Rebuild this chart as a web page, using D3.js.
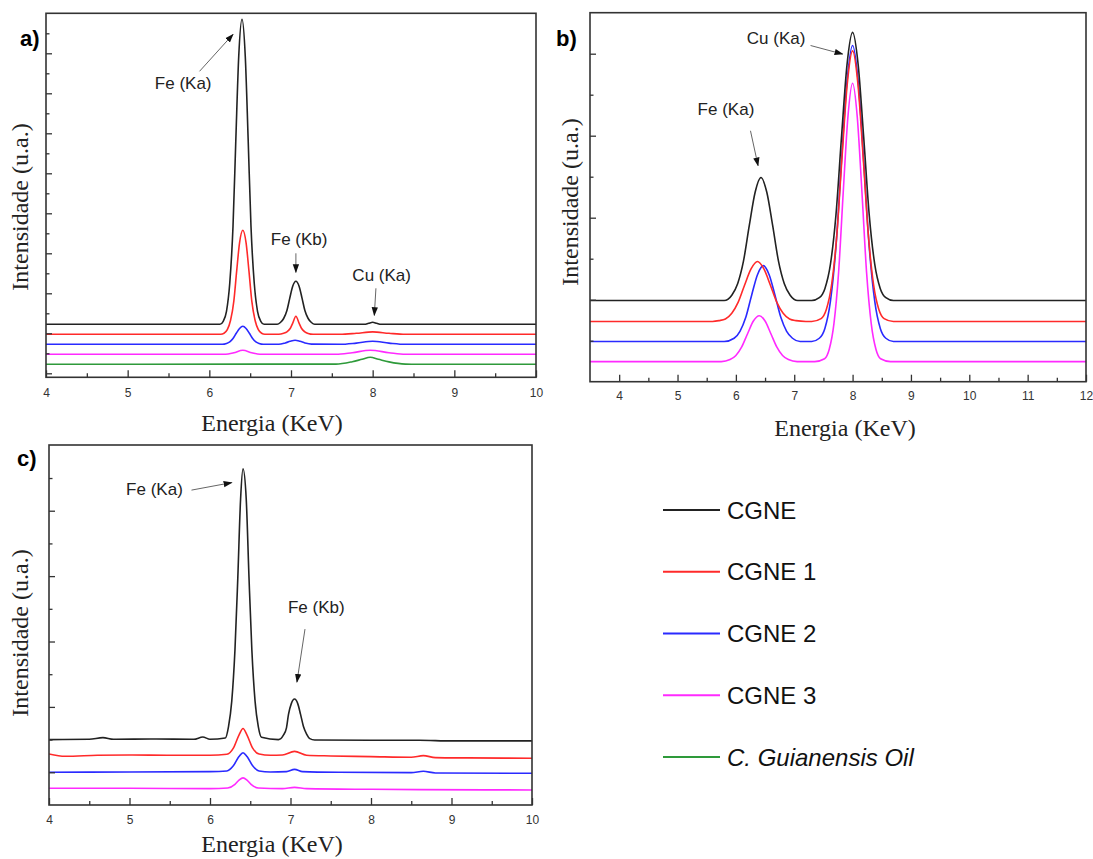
<!DOCTYPE html>
<html>
<head>
<meta charset="utf-8">
<script src="https://cdn.jsdelivr.net/npm/d3@7"></script>
<style>
	body { margin: 0; background: #fff; }
	svg { display: block; }
</style>
</head>
<body>
<svg id="fig" width="1093" height="859"></svg>
<script>
// =================================================
// data: [energy (KeV), intensity (u.a.)]
// =================================================
var seriesNames = ["CGNE", "CGNE 1", "CGNE 2", "CGNE 3", "C. Guianensis Oil"];
var seriesColors = ["#222", "#ff2a2a", "#2a2aff", "#ff2aff", "#2e9a3a"];

// panel a)
var aCGNE = [[4,2.45],[6.13,2.45],[6.17,2.6],[6.21,3.1],[6.25,4.5],[6.29,7.35],[6.325,11.75],[6.36,15.85],[6.4,17.7],
	[6.44,15.85],[6.475,11.75],[6.51,7.35],[6.55,4.5],[6.59,3.1],[6.63,2.6],[6.67,2.45],[6.83,2.45],[6.87,2.54],[6.91,2.74],
	[6.95,3.14],[6.985,3.76],[7.02,4.34],[7.06,4.6],[7.1,4.34],[7.135,3.76],[7.17,3.14],[7.21,2.74],[7.25,2.54],[7.29,2.45],
	[7.9,2.45],[7.95,2.5],[8.0,2.55],[8.05,2.5],[8.1,2.45],[10,2.45]];
var aCGNE1 = [[4,1.95],[6.14,1.95],[6.18,2.0],[6.22,2.18],[6.26,2.65],[6.3,3.61],[6.335,5.12],[6.37,6.52],[6.41,7.15],
	[6.45,6.52],[6.485,5.12],[6.52,3.61],[6.56,2.65],[6.6,2.18],[6.64,2.0],[6.68,1.95],[6.85,1.95],[6.91,2.0],[6.95,2.07],
	[6.99,2.24],[7.02,2.5],[7.06,2.85],[7.1,2.5],[7.13,2.24],[7.17,2.07],[7.21,1.99],[7.27,1.95],[7.6,1.95],[7.8,2.0],
	[8.0,2.07],[8.2,2.0],[8.4,1.95],[10,1.95]];
var aCGNE2 = [[4,1.45],[6.16,1.45],[6.21,1.49],[6.25,1.57],[6.29,1.74],[6.33,2.0],[6.37,2.24],[6.41,2.35],[6.45,2.24],
	[6.49,2.0],[6.53,1.74],[6.57,1.57],[6.61,1.49],[6.66,1.45],[6.85,1.45],[6.93,1.52],[6.99,1.6],[7.05,1.65],[7.11,1.6],
	[7.17,1.52],[7.25,1.46],[7.6,1.45],[7.8,1.51],[8.0,1.6],[8.2,1.51],[8.4,1.45],[10,1.45]];
var aCGNE3 = [[4,0.95],[6.2,0.95],[6.3,1.03],[6.41,1.15],[6.52,1.03],[6.62,0.95],[7.55,0.95],[7.75,1.03],[7.97,1.15],
	[8.2,1.03],[8.4,0.95],[10,0.95]];
var aOil = [[4,0.45],[7.55,0.46],[7.75,0.58],[7.87,0.7],[7.97,0.8],[8.07,0.7],[8.2,0.57],[8.4,0.46],[8.55,0.45],[10,0.45]];

// panel b)
var bCGNE = [[3.5,1.98],[5.8,1.98],[5.93,2.11],[6.03,2.39],[6.13,2.94],[6.23,3.81],[6.33,4.62],[6.43,4.98],[6.53,4.62],
	[6.63,3.81],[6.73,2.94],[6.83,2.39],[6.93,2.11],[7.06,1.98],[7.3,1.98],[7.43,2.05],[7.525,2.27],[7.62,2.86],[7.715,4.07],
	[7.81,5.97],[7.905,7.74],[8.0,8.52],[8.095,7.74],[8.19,5.97],[8.285,4.07],[8.38,2.86],[8.475,2.27],[8.57,2.05],[8.7,1.98],[12,1.98]];
var bCGNE1 = [[3.5,1.47],[5.6,1.47],[5.71,1.49],[5.82,1.53],[5.93,1.67],[6.04,1.94],[6.15,2.36],[6.26,2.75],[6.37,2.93],
	[6.48,2.75],[6.59,2.36],[6.7,1.94],[6.81,1.67],[6.92,1.53],[7.03,1.49],[7.2,1.47],[7.3,1.47],[7.46,1.54],[7.55,1.76],
	[7.64,2.36],[7.73,3.58],[7.82,5.5],[7.91,7.28],[8.0,8.07],[8.09,7.28],[8.18,5.5],[8.27,3.58],[8.36,2.36],[8.45,1.76],
	[8.54,1.54],[8.7,1.47],[12,1.47]];
var bCGNE2 = [[3.5,0.98],[5.8,0.98],[5.97,1.06],[6.07,1.23],[6.17,1.57],[6.27,2.11],[6.37,2.61],[6.47,2.83],[6.57,2.61],
	[6.67,2.11],[6.77,1.57],[6.87,1.23],[6.97,1.06],[7.1,0.98],[7.3,0.98],[7.43,1.06],[7.525,1.3],[7.62,1.96],[7.715,3.29],
	[7.81,5.38],[7.905,7.33],[8.0,8.2],[8.095,7.33],[8.19,5.38],[8.285,3.29],[8.38,1.96],[8.475,1.3],[8.57,1.06],[8.7,0.98],[12,0.98]];
var bCGNE3 = [[3.5,0.49],[5.75,0.49],[5.9,0.54],[6.0,0.64],[6.1,0.85],[6.2,1.17],[6.3,1.48],[6.4,1.61],[6.5,1.48],
	[6.6,1.17],[6.7,0.85],[6.8,0.64],[6.9,0.54],[7.05,0.49],[7.35,0.49],[7.52,0.56],[7.6,0.79],[7.68,1.41],[7.76,2.66],
	[7.84,4.63],[7.92,6.46],[8.0,7.28],[8.08,6.46],[8.16,4.63],[8.24,2.66],[8.32,1.41],[8.4,0.79],[8.48,0.56],[8.65,0.49],[12,0.49]];

// panel c)
var cCGNE = [[4,2.0],[4.5,2.01],[4.67,2.06],[4.8,2.01],[5.3,2.02],[5.8,2.01],[5.91,2.08],[6.0,2.01],[6.19,2.05],[6.23,2.4],
	[6.27,3.17],[6.31,4.74],[6.345,6.92],[6.38,9.36],[6.41,10.28],[6.45,9.36],[6.485,6.92],[6.52,4.74],[6.56,3.17],[6.6,2.4],
	[6.64,2.07],[6.85,2.0],[6.91,2.13],[6.95,2.36],[6.975,2.77],[7.01,3.1],[7.05,3.24],[7.09,3.1],[7.125,2.77],[7.16,2.41],
	[7.2,2.17],[7.24,2.03],[7.3,1.99],[8.0,1.98],[8.6,1.98],[9.0,1.96],[10,1.96]];
var cCGNE1 = [[4,1.56],[4.2,1.49],[4.6,1.52],[5.0,1.53],[5.5,1.52],[6.0,1.52],[6.21,1.55],[6.29,1.74],[6.36,2.14],[6.41,2.34],
	[6.46,2.14],[6.53,1.74],[6.61,1.56],[6.75,1.52],[6.9,1.53],[7.05,1.64],[7.2,1.52],[7.5,1.5],[8.0,1.48],[8.5,1.46],
	[8.65,1.51],[8.8,1.45],[9.2,1.44],[10,1.43]];
var cCGNE2 = [[4,1.0],[5.0,1.01],[6.0,1.02],[6.21,1.04],[6.29,1.2],[6.36,1.48],[6.41,1.6],[6.46,1.48],[6.53,1.2],
	[6.61,1.04],[6.75,1.01],[6.95,1.02],[7.05,1.09],[7.15,1.02],[7.6,1.0],[8.5,0.99],[8.65,1.03],[8.8,0.98],[10,0.97]];
var cCGNE3 = [[4,0.51],[5.0,0.51],[6.0,0.5],[6.22,0.52],[6.31,0.63],[6.36,0.76],[6.41,0.83],[6.46,0.76],[6.51,0.63],
	[6.6,0.52],[6.9,0.5],[7.05,0.54],[7.2,0.5],[8.0,0.48],[8.6,0.47],[10,0.46]];

// peak annotations: text centre + arrow from/to, in data units
var notesA = [
	{ text: "Fe (Ka)", at: [5.68, 14.5], from: [5.88, 15.1], to: [6.29, 16.95] },
	{ text: "Fe (Kb)", at: [7.10, 6.7], from: [7.06, 6.0], to: [7.06, 5.05] },
	{ text: "Cu (Ka)", at: [8.11, 4.9], from: [8.04, 4.25], to: [8.02, 2.9] }
];
var notesB = [
	{ text: "Cu (Ka)", at: [6.69, 8.39], from: [7.28, 8.2], to: [7.83, 7.99] },
	{ text: "Fe (Ka)", at: [5.83, 6.66], from: [6.25, 6.12], to: [6.38, 5.27] }
];
var notesC = [
	{ text: "Fe (Ka)", at: [5.31, 9.65], from: [5.77, 9.63], to: [6.27, 9.86] },
	{ text: "Fe (Kb)", at: [7.32, 6.06], from: [7.18, 5.38], to: [7.08, 3.76] }
];

// =================================================
// layout of the three panels
// =================================================
var panels = [
	{ label: "a)", lab: [20, 45.5], box: [46, 13.3, 536, 377.3], xDom: [4, 10], yDom: [-0.2, 18],
		xMajor: d3.range(4, 10.01, 1), xMinor: d3.range(4.5, 10, 1),
		yTicks: d3.range(0, 18, 1), yMajorOdd: false, pad: 11,
		series: [aCGNE, aCGNE1, aCGNE2, aCGNE3, aOil], notes: notesA, xTitle: [272, 431], yTitle: [28, 207] },
	{ label: "b)", lab: [556, 45.5], box: [590, 12.7, 1086, 381.7], xDom: [3.5, 12], yDom: [0, 9.0],
		xMajor: d3.range(4, 12.01, 1), xMinor: d3.range(4.5, 12, 1),
		yTicks: d3.range(1, 9, 1), yMajorOdd: false, pad: 10,
		series: [bCGNE, bCGNE1, bCGNE2, bCGNE3], notes: notesB, xTitle: [845, 436], yTitle: [578, 202] },
	{ label: "c)", lab: [17, 466], box: [49, 445, 532, 805], xDom: [4, 10], yDom: [0, 11.01],
		xMajor: d3.range(4, 10.01, 1), xMinor: d3.range(4.5, 10, 1),
		yTicks: d3.range(1, 11, 1), yMajorOdd: true, pad: 10,
		series: [cCGNE, cCGNE1, cCGNE2, cCGNE3], notes: notesC, xTitle: [272, 852], yTitle: [28, 633] }
];

var svg = d3.select("#fig");
svg.append("rect").attr("width", 1093).attr("height", 859).attr("fill", "#fff");

var defs = svg.append("defs");
defs.append("marker")
	.attr("id", "head")
	.attr("viewBox", "0 0 10 10")
	.attr("refX", 9).attr("refY", 5)
	.attr("markerWidth", 9).attr("markerHeight", 9)
	.attr("markerUnits", "userSpaceOnUse")
	.attr("orient", "auto")
	.append("path")
	.attr("d", "M0,1.5 L10,5 L0,8.5 Z")
	.attr("fill", "#111");

panels.forEach(function(p, pi) {
	var b = p.box;
	var x = d3.scaleLinear().domain(p.xDom).range([b[0], b[2]]);
	var y = d3.scaleLinear().domain(p.yDom).range([b[3], b[1]]);
	var g = svg.append("g");

	defs.append("clipPath").attr("id", "clip" + pi)
		.append("rect")
		.attr("x", b[0]).attr("y", b[1])
		.attr("width", b[2] - b[0]).attr("height", b[3] - b[1]);

	// spectra
	var line = d3.line()
		.x(function(d) { return x(d[0]); })
		.y(function(d) { return y(d[1]); })
		.curve(d3.curveMonotoneX);

	g.append("g").attr("clip-path", "url(#clip" + pi + ")")
		.selectAll("path")
		.data(p.series.slice().reverse())
		.enter().append("path")
		.attr("d", line)
		.attr("fill", "none")
		.attr("stroke", function(d, i) { return seriesColors[p.series.length - 1 - i]; })
		.attr("stroke-width", 1.6)
		.attr("stroke-linejoin", "round");

	// x axis (ticks inside, labels outside)
	var xa = g.append("g").attr("transform", "translate(0," + b[3] + ")")
		.call(d3.axisBottom(x).tickValues(p.xMajor).tickSize(-7).tickPadding(p.pad).tickFormat(d3.format("d")));
	g.append("g").attr("transform", "translate(0," + b[3] + ")")
		.call(d3.axisBottom(x).tickValues(p.xMinor).tickSize(-4).tickFormat(""));

	// y axis, no labels
	g.append("g").attr("transform", "translate(" + b[0] + ",0)")
		.call(d3.axisLeft(y).tickValues(p.yTicks.filter(function(v) { return (v % 2 === 1) === p.yMajorOdd; }))
			.tickSize(-6).tickFormat(""));
	g.append("g").attr("transform", "translate(" + b[0] + ",0)")
		.call(d3.axisLeft(y).tickValues(p.yTicks.filter(function(v) { return (v % 2 === 1) !== p.yMajorOdd; }))
			.tickSize(-3.5).tickFormat(""));

	g.selectAll(".domain").remove();
	g.selectAll(".tick line").attr("stroke", "#333").attr("stroke-width", 1.3);
	xa.selectAll(".tick text")
		.attr("fill", "#333")
		.style("font-family", "'Liberation Sans', Arial, sans-serif")
		.style("font-size", "12px");

	// frame
	g.append("rect")
		.attr("x", b[0]).attr("y", b[1])
		.attr("width", b[2] - b[0]).attr("height", b[3] - b[1])
		.attr("fill", "none").attr("stroke", "#333").attr("stroke-width", 1.6);

	// axis titles
	g.append("text")
		.attr("x", p.xTitle[0]).attr("y", p.xTitle[1])
		.attr("text-anchor", "middle")
		.style("font-family", "'Liberation Serif', 'Times New Roman', serif")
		.style("font-size", "24px").attr("fill", "#222")
		.text("Energia (KeV)");
	g.append("text")
		.attr("transform", "translate(" + p.yTitle[0] + "," + p.yTitle[1] + ") rotate(-90)")
		.attr("text-anchor", "middle")
		.style("font-family", "'Liberation Serif', 'Times New Roman', serif")
		.style("font-size", "24px").attr("fill", "#222")
		.text("Intensidade (u.a.)");

	// panel letter
	g.append("text")
		.attr("x", p.lab[0]).attr("y", p.lab[1])
		.style("font-family", "'Liberation Sans', Arial, sans-serif")
		.style("font-size", "22px").style("font-weight", "bold")
		.text(p.label);

	// peak notes
	p.notes.forEach(function(n) {
		g.append("line")
			.attr("x1", x(n.from[0])).attr("y1", y(n.from[1]))
			.attr("x2", x(n.to[0])).attr("y2", y(n.to[1]))
			.attr("stroke", "#666").attr("stroke-width", 1)
			.attr("marker-end", "url(#head)");
		g.append("text")
			.attr("x", x(n.at[0])).attr("y", y(n.at[1]))
			.attr("dy", "0.35em")
			.attr("text-anchor", "middle")
			.style("font-family", "'Liberation Sans', Arial, sans-serif")
			.style("font-size", "17px").attr("fill", "#222")
			.text(n.text);
	});
});

// =================================================
// legend
// =================================================
var legendY = d3.scalePoint().domain(seriesNames).range([510, 757]);
var legend = svg.append("g").selectAll("g")
	.data(seriesNames)
	.enter().append("g")
	.attr("transform", function(d) { return "translate(663," + legendY(d) + ")"; });

legend.append("line")
	.attr("x1", 0).attr("x2", 57)
	.attr("stroke", function(d, i) { return seriesColors[i]; })
	.attr("stroke-width", 2);
legend.append("text")
	.attr("x", 64).attr("dy", "0.36em")
	.style("font-family", "'Liberation Sans', Arial, sans-serif")
	.style("font-size", "24px")
	.style("font-style", function(d, i) { return i === 4 ? "italic" : "normal"; })
	.attr("fill", "#111")
	.text(function(d) { return d; });
</script>
</body>
</html>
